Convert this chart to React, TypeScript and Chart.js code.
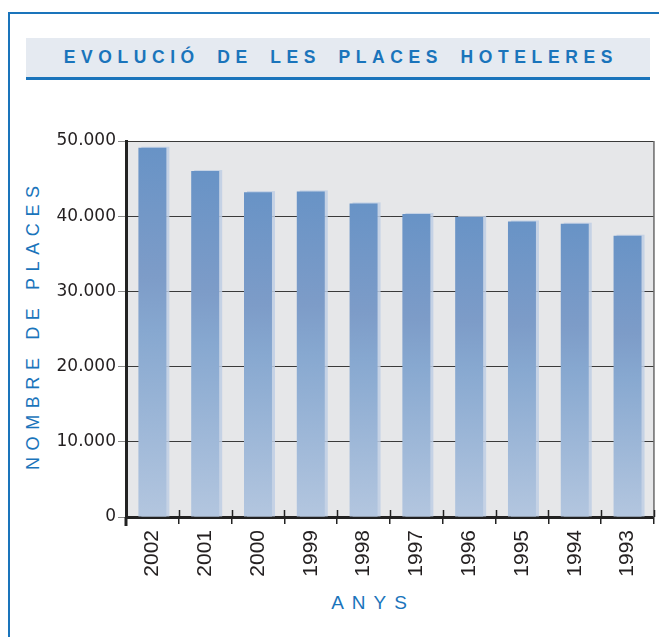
import React, { useEffect, useRef } from "react";
import { Chart, registerables } from "chart.js";

Chart.register(...registerables);

const TITLE = "EVOLUCIÓ DE LES PLACES HOTELERES";
const Y_TITLE = "NOMBRE DE PLACES";
const X_TITLE = "ANYS";
const years = ["2002", "2001", "2000", "1999", "1998", "1997", "1996", "1995", "1994", "1993"];
const places = [49100, 46000, 43200, 43300, 41700, 40300, 39900, 39300, 39000, 37400];
const yTicks = [0, 10000, 20000, 30000, 40000, 50000];

const BLUE = "#1a74bb";

const fmt = (v: number) => {
  const s = String(Math.round(v));
  return s.replace(/\B(?=(\d{3})+(?!\d))/g, ".");
};

const decor = {
  id: "decor",
  beforeDraw(chart: any) {
    const { ctx, chartArea: a } = chart;
    ctx.save();
    ctx.fillStyle = "#e6e7e9";
    ctx.fillRect(a.left, a.top, a.right - a.left, a.bottom - a.top);
    ctx.restore();
  },
  beforeDatasetsDraw(chart: any) {
    const { ctx } = chart;
    const meta = chart.getDatasetMeta(0);
    ctx.save();
    ctx.fillStyle = "rgba(190,206,228,0.85)";
    meta.data.forEach((bar: any) => {
      const p = bar.getProps(["x", "y", "base", "width"], true);
      ctx.fillRect(p.x - p.width / 2 + 3, p.y - 1, p.width, p.base - p.y + 1);
    });
    ctx.restore();
  },
  afterDraw(chart: any) {
    const { ctx, chartArea: a } = chart;
    const n = years.length;
    const w = (a.right - a.left) / n;
    ctx.save();
    ctx.strokeStyle = "#6a6a6a";
    ctx.lineWidth = 1.5;
    ctx.beginPath();
    ctx.moveTo(a.right, a.top);
    ctx.lineTo(a.right, a.bottom);
    ctx.stroke();
    ctx.strokeStyle = "#222";
    ctx.lineWidth = 1.5;
    for (let i = 1; i <= n; i++) {
      const x = Math.round(a.left + i * w) + 0.5;
      ctx.beginPath();
      ctx.moveTo(x, a.bottom - 7);
      ctx.lineTo(x, a.bottom);
      ctx.stroke();
    }
    ctx.strokeStyle = "#222";
    ctx.lineWidth = 3;
    ctx.beginPath();
    ctx.moveTo(a.left, a.bottom);
    ctx.lineTo(a.left, a.bottom + 9);
    ctx.stroke();
    ctx.restore();
  },
};

export default function App() {
  const ref = useRef<HTMLCanvasElement | null>(null);

  useEffect(() => {
    if (!ref.current) return;
    const chart = new Chart(ref.current, {
      type: "bar",
      data: {
        labels: years,
        datasets: [
          {
            data: places,
            backgroundColor: (c: any) => {
              const ch = c.chart;
              const { ctx, chartArea } = ch;
              if (!chartArea || c.parsed == null) return "#85a3cb";
              const y = ch.scales.y;
              const top = y.getPixelForValue(c.parsed.y);
              const bot = y.getPixelForValue(0);
              const g = ctx.createLinearGradient(0, top, 0, bot);
              g.addColorStop(0, "#6893c6");
              g.addColorStop(0.35, "#7d9cc8");
              g.addColorStop(0.5, "#87a8d0");
              g.addColorStop(1, "#b3c6df");
              return g;
            },
            borderWidth: 0,
            barPercentage: 0.53,
            categoryPercentage: 1,
          },
        ],
      },
      options: {
        responsive: true,
        maintainAspectRatio: false,
        animation: false,
        layout: { padding: { top: 16, right: 5, left: 0, bottom: 0 } },
        plugins: {
          legend: { display: false },
          tooltip: { enabled: false },
          title: { display: false },
        },
        scales: {
          x: {
            afterFit: (s: any) => {
              s.height = 83;
            },
            border: { display: true, color: "#222", width: 3 },
            grid: {
              offset: true,
              drawOnChartArea: false,
              color: "#222",
              lineWidth: 1.5,
              tickLength: 7,
            },
            ticks: {
              minRotation: 90,
              maxRotation: 90,
              padding: 6,
              color: "#231f20",
              font: { family: "'Liberation Sans', Arial, sans-serif", size: 21 },
            },
          },
          y: {
            min: 0,
            max: 50000,
            afterFit: (s: any) => {
              s.width = 86;
            },
            afterBuildTicks: (s: any) => {
              s.ticks = yTicks.map((v) => ({ value: v }));
            },
            border: { display: true, color: "#222", width: 3 },
            grid: {
              color: "#3a3a3a",
              lineWidth: 1,
              tickColor: "#8a8a8a",
              tickLength: 8,
            },
            ticks: {
              padding: 2,
              color: "#231f20",
              font: { family: "'DejaVu Sans', sans-serif", size: 17 },
              callback: (v: any) => fmt(Number(v)),
            },
          },
        },
      },
      plugins: [decor],
    });
    return () => chart.destroy();
  }, []);

  return (
    <div
      style={{
        position: "fixed",
        left: 0,
        top: 0,
        width: 659,
        height: 637,
        overflow: "hidden",
        background: "#fff",
        fontFamily: "'Liberation Sans', Arial, sans-serif",
      }}
    >
      <div
        style={{
          position: "absolute",
          left: 8,
          top: 12,
          width: 720,
          height: 720,
          borderLeft: `2px solid ${BLUE}`,
          borderTop: `2px solid ${BLUE}`,
        }}
      />
      <div
        style={{
          position: "absolute",
          left: 26,
          top: 38,
          width: 624,
          height: 39,
          background: "#e5eaf1",
          borderBottom: `3px solid ${BLUE}`,
          display: "flex",
          alignItems: "center",
          justifyContent: "center",
        }}
      >
        <span
          style={{
            color: BLUE,
            fontWeight: "bold",
            fontSize: 17.5,
            letterSpacing: "5.6px",
            wordSpacing: "7px",
            paddingLeft: "5.6px",
            whiteSpace: "nowrap",
          }}
        >
          {TITLE}
        </span>
      </div>
      <div
        style={{
          position: "absolute",
          left: 33,
          top: 328,
          transform: "translate(-50%, -50%) rotate(-90deg)",
          color: BLUE,
          fontSize: 18,
          letterSpacing: "6.6px",
          paddingLeft: "6.6px",
          whiteSpace: "nowrap",
        }}
      >
        {Y_TITLE}
      </div>
      <div
        style={{
          position: "absolute",
          left: 369,
          top: 603,
          transform: "translate(-50%, -50%)",
          color: BLUE,
          fontSize: 19,
          letterSpacing: "8px",
          paddingLeft: "8px",
          whiteSpace: "nowrap",
        }}
      >
        {X_TITLE}
      </div>
      <div style={{ position: "absolute", left: 40, top: 125, width: 619, height: 475 }}>
        <canvas ref={ref} />
      </div>
    </div>
  );
}
